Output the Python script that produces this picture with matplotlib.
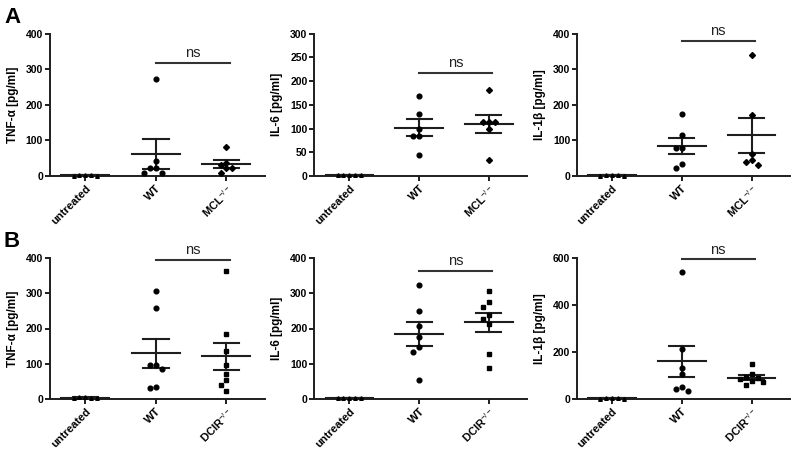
import numpy as np
import matplotlib
matplotlib.use("Agg")
import matplotlib.pyplot as plt

plt.rcParams['font.family'] = ['Liberation Sans', 'DejaVu Sans']
plt.rcParams['mathtext.fontset'] = 'custom'
plt.rcParams['mathtext.rm'] = 'Liberation Sans'
plt.rcParams['mathtext.it'] = 'Liberation Sans:italic'
plt.rcParams['mathtext.bf'] = 'Liberation Sans:bold'

# ---- data (pg/ml) ----
groups_A = ["untreated", "WT", "MCL$^{-/-}$"]
groups_B = ["untreated", "WT", "DCIR$^{-/-}$"]

tnf_A_untr = [2, 1, 2, 3, 1]
tnf_A_wt = [274, 41, 21, 21, 9, 9]
tnf_A_ko = [81, 37, 32, 21, 21, 9]

il6_A_untr = [1, 1, 2, 1, 1]
il6_A_wt = [168, 131, 99, 85, 85, 44]
il6_A_ko = [182, 114, 113, 113, 100, 34]

il1_A_untr = [3, 1, 2, 1, 4]
il1_A_wt = [175, 115, 78, 78, 33, 22]
il1_A_ko = [340, 172, 61, 44, 39, 31]

tnf_B_untr = [5, 3, 4, 6, 2]
tnf_B_wt = [305, 257, 96, 96, 85, 35, 32]
tnf_B_ko = [362, 184, 137, 96, 71, 54, 39, 24]

il6_B_untr = [3, 2, 4, 3, 2]
il6_B_wt = [324, 250, 207, 175, 148, 133, 54]
il6_B_ko = [307, 275, 262, 237, 226, 213, 128, 88]

il1_B_untr = [3, 2, 4, 5, 2]
il1_B_wt = [540, 214, 132, 106, 52, 41, 35]
il1_B_ko = [149, 106, 93, 90, 84, 78, 72, 58]

ylabels = ["TNF-α [pg/ml]", "IL-6 [pg/ml]", "IL-1β [pg/ml]"]
ytops_A = [400, 300, 400]
ysteps_A = [100, 50, 100]
ytops_B = [400, 400, 600]
ysteps_B = [100, 100, 200]
ns_A = [318, 218, 381]
ns_B = [394, 364, 593]

panels_A = [(tnf_A_untr, tnf_A_wt, tnf_A_ko),
            (il6_A_untr, il6_A_wt, il6_A_ko),
            (il1_A_untr, il1_A_wt, il1_A_ko)]
panels_B = [(tnf_B_untr, tnf_B_wt, tnf_B_ko),
            (il6_B_untr, il6_B_wt, il6_B_ko),
            (il1_B_untr, il1_B_wt, il1_B_ko)]

W, H = 794, 450
fig = plt.figure(figsize=(W / 100, H / 100), dpi=100)

lefts = [0.063, 0.396, 0.727]
widths = [0.271, 0.268, 0.268]
bottoms = [0.609, 0.113]
heights = [0.316, 0.314]
XMIN, XMAX = -0.5, 2.55
DOT = 4.2  # marker diameter in px
INK = '#1e1e1e'


def swarm(vals, ytop, ax_h_px, px_per_unit):
    # simple beeswarm: spread points that would overlap
    ypx = np.asarray(vals, float) / ytop * ax_h_px
    order = np.argsort(-ypx)
    offs = np.zeros(len(vals))
    placed = []
    step = DOT * 1.4
    for i in order:
        k = 0
        while True:
            cand = [0] if k == 0 else [-k * step, k * step]
            ok = None
            for c in cand:
                if all((c - px) ** 2 + (ypx[i] - py) ** 2 >= (DOT * 1.3) ** 2 for px, py in placed):
                    ok = c
                    break
            if ok is not None:
                offs[i] = ok
                placed.append((ok, ypx[i]))
                break
            k += 1
    return offs / px_per_unit


def draw(ax, data, labels, ytop, ystep, ylab, ns_y, ko_marker, ax_w_px, ax_h_px):
    ppu = ax_w_px / (XMAX - XMIN)
    markers = ['^', 'o', ko_marker]
    msizes = [2.6, 3.4, 3.0 if ko_marker == 'D' else 3.3]
    for xi, vals in enumerate(data):
        vals = np.asarray(vals, float)
        off = swarm(vals, ytop, ax_h_px, ppu)
        ax.plot(xi + off, vals, linestyle='none', marker=markers[xi], ms=msizes[xi],
                color='black', clip_on=False, zorder=3)
        m = vals.mean()
        se = vals.std(ddof=1) / np.sqrt(len(vals))
        ax.plot([xi - 0.34, xi + 0.34], [m, m], color=INK, lw=1.5, zorder=2, clip_on=False)
        ax.plot([xi - 0.18, xi + 0.18], [m + se, m + se], color=INK, lw=1.5, zorder=2, clip_on=False)
        ax.plot([xi - 0.18, xi + 0.18], [m - se, m - se], color=INK, lw=1.5, zorder=2, clip_on=False)
        ax.plot([xi, xi], [m - se, m + se], color=INK, lw=1.5, zorder=2, clip_on=False)
    ax.plot([1.0, 2.05], [ns_y, ns_y], color='#333333', lw=1.5, clip_on=False)
    ax.text(1.52, ns_y + ytop * 0.018, "ns", ha='center', va='bottom', fontsize=10.5, color='#222222')
    ax.set_xlim(XMIN, XMAX)
    ax.set_ylim(0, ytop)
    ax.set_yticks(np.arange(0, ytop + 1, ystep))
    ax.set_xticks([0, 1, 2])
    ax.set_xticklabels(labels, rotation=45, ha='right', rotation_mode='anchor',
                       fontsize=8, fontweight='bold')
    for t in ax.get_yticklabels():
        t.set_fontsize(7.5)
        t.set_fontweight('bold')
    ax.set_ylabel(ylab, fontsize=8.5, fontweight='bold', labelpad=5)
    for s in ['top', 'right']:
        ax.spines[s].set_visible(False)
    for s in ['left', 'bottom']:
        ax.spines[s].set_linewidth(1.4)
        ax.spines[s].set_color(INK)
    ax.tick_params(width=1.4, length=3.5, color=INK, pad=1.5)


for r, (panels, labels, ytops, ysteps, nsy, mk) in enumerate([
        (panels_A, groups_A, ytops_A, ysteps_A, ns_A, 'D'),
        (panels_B, groups_B, ytops_B, ysteps_B, ns_B, 's')]):
    for c in range(3):
        ax = fig.add_axes([lefts[c], bottoms[r], widths[c], heights[r]])
        draw(ax, panels[c], labels, ytops[c], ysteps[c], ylabels[c], nsy[c], mk,
             widths[c] * W, heights[r] * H)

fig.text(0.005, 0.985, "A", fontsize=16, fontweight='bold', va='top', ha='left')
fig.text(0.005, 0.487, "B", fontsize=16, fontweight='bold', va='top', ha='left')

fig.savefig("out.png", dpi=100)
